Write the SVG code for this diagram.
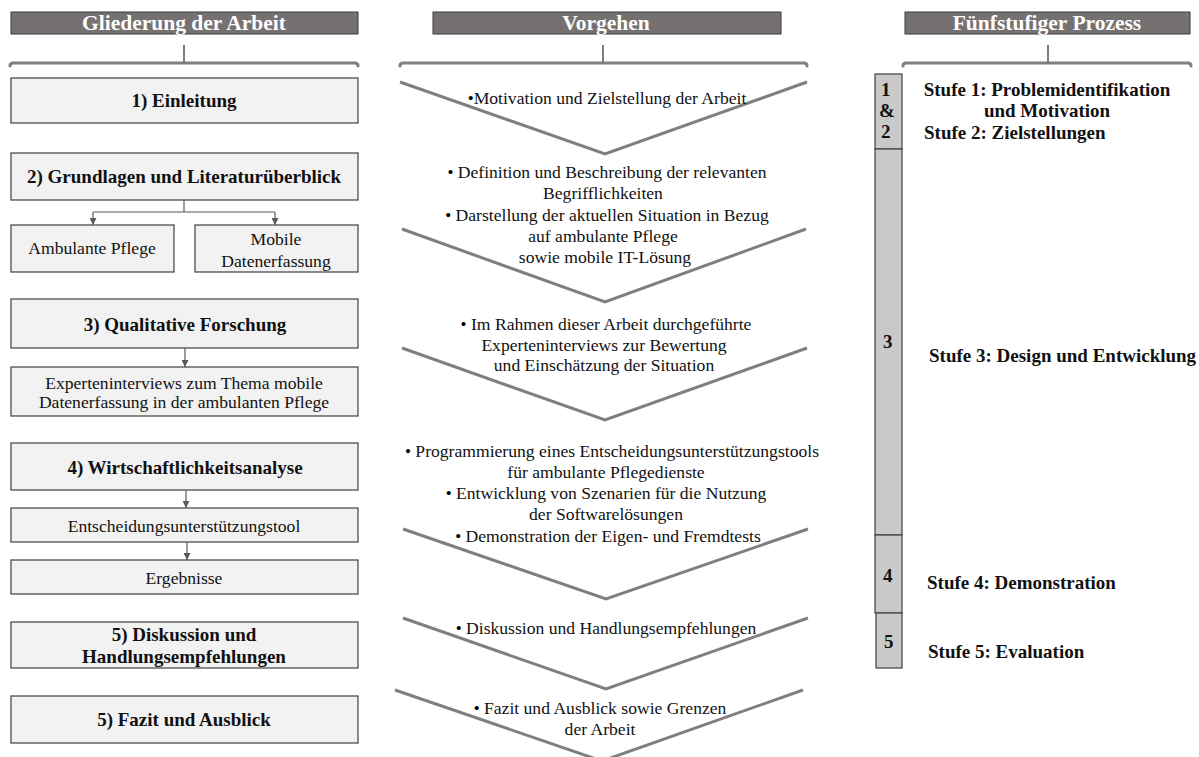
<svg xmlns="http://www.w3.org/2000/svg" width="1199" height="757" viewBox="0 0 1199 757">
<defs>
<style>
.hdr{fill:#767171;stroke:#3a3a3a;stroke-width:1}
.hdrt{font-family:"Liberation Serif",serif;font-weight:bold;font-size:21.5px;fill:#ffffff;text-anchor:middle}
.box{fill:#f2f2f2;stroke:#404040;stroke-width:1.2}
.bt{font-family:"Liberation Serif",serif;font-weight:bold;font-size:19px;fill:#111;text-anchor:middle}
.rt{font-family:"Liberation Serif",serif;font-size:17.6px;fill:#111;text-anchor:middle}
.brk{fill:none;stroke:#7f7f7f;stroke-width:3;stroke-linecap:round;stroke-linejoin:round}
.stem{fill:none;stroke:#7f7f7f;stroke-width:2}
.chev{fill:none;stroke:#7f7f7f;stroke-width:3}
.conn{fill:none;stroke:#595959;stroke-width:1.2}
.seg{fill:#c9c9c9;stroke:#404040;stroke-width:1.2}
.st{font-family:"Liberation Serif",serif;font-weight:bold;font-size:19px;fill:#111}
.dot{font-size:17px;fill:#000}
</style>
<marker id="ah" viewBox="0 0 10 10" refX="10" refY="5" markerWidth="7" markerHeight="7" orient="auto" markerUnits="userSpaceOnUse">
<path d="M0,0 L10,5 L0,10 Z" fill="#595959"/>
</marker>
</defs>

<!-- Headers -->
<g id="hdr-gliederung">
<rect class="hdr" x="11" y="12" width="347" height="22"/>
<text class="hdrt" x="184" y="30">Gliederung der Arbeit</text>
<line class="stem" x1="184" y1="45" x2="184" y2="62"/>
<path class="brk" d="M10,66 Q10,63 13,63 L355,63 Q358,63 358,66"/>
</g>
<g id="hdr-vorgehen">
<rect class="hdr" x="433" y="12" width="348" height="22"/>
<text class="hdrt" x="606" y="30">Vorgehen</text>
<line class="stem" x1="603" y1="45" x2="603" y2="62"/>
<path class="brk" d="M400,66 Q400,63 403,63 L804,63 Q807,63 807,66"/>
</g>
<g id="hdr-prozess">
<rect class="hdr" x="905" y="12" width="285" height="22"/>
<text class="hdrt" x="1047" y="30">Fünfstufiger Prozess</text>
<line class="stem" x1="1048" y1="45" x2="1048" y2="62"/>
<path class="brk" d="M903,66 Q903,63 906,63 L1188,63 Q1191,63 1191,66"/>
</g>

<!-- Left column -->
<g id="n-einleitung"><rect class="box" x="11" y="78" width="347" height="45"/><text class="bt" x="184" y="107">1) Einleitung</text></g>
<g id="n-grundlagen"><rect class="box" x="11" y="153" width="347" height="47"/><text class="bt" x="184" y="183">2) Grundlagen und Literaturüberblick</text></g>
<g id="n-ambulant"><rect class="box" x="11" y="225" width="163" height="47"/><text class="rt" x="92" y="254">Ambulante  Pflege</text></g>
<g id="n-mobile"><rect class="box" x="195" y="225" width="163" height="47"/><text class="rt" x="276" y="245">Mobile</text><text class="rt" x="276" y="267">Datenerfassung</text></g>
<g id="n-qualitativ"><rect class="box" x="11" y="299" width="347" height="49"/><text class="bt" x="185" y="331">3) Qualitative Forschung</text></g>
<g id="n-experten"><rect class="box" x="11" y="367" width="347" height="49"/><text class="rt" x="184" y="389">Experteninterviews  zum  Thema  mobile</text><text class="rt" x="184" y="408">Datenerfassung  in der ambulanten  Pflege</text></g>
<g id="n-wirtschaft"><rect class="box" x="11" y="443" width="347" height="47"/><text class="bt" x="185" y="474">4) Wirtschaftlichkeitsanalyse</text></g>
<g id="n-tool"><rect class="box" x="11" y="508" width="347" height="34"/><text class="rt" x="184" y="532">Entscheidungsunterstützungstool</text></g>
<g id="n-ergebnisse"><rect class="box" x="11" y="560" width="347" height="34"/><text class="rt" x="184" y="584">Ergebnisse</text></g>
<g id="n-diskussion"><rect class="box" x="11" y="622" width="347" height="46"/><text class="bt" x="184" y="641">5) Diskussion und</text><text class="bt" x="184" y="663">Handlungsempfehlungen</text></g>
<g id="n-fazit"><rect class="box" x="11" y="696" width="347" height="47"/><text class="bt" x="184" y="726">5) Fazit und Ausblick</text></g>

<!-- Connectors -->
<g id="connectors">
<path class="conn" d="M184,200 L184,212"/>
<path class="conn" d="M93,212 L275,212"/>
<path class="conn" d="M93,212 L93,225" marker-end="url(#ah)"/>
<path class="conn" d="M275,212 L275,225" marker-end="url(#ah)"/>
<path class="conn" d="M185,348 L185,367" marker-end="url(#ah)"/>
<path class="conn" d="M186,490 L186,508" marker-end="url(#ah)"/>
<path class="conn" d="M187,542 L187,560" marker-end="url(#ah)"/>
</g>

<!-- Middle column chevrons -->
<g id="v1">
<polyline class="chev" points="400,82 605,154 807,82"/>
<text class="rt" x="607" y="104"><tspan class="dot">•</tspan>Motivation und Zielstellung der Arbeit</text>
</g>
<g id="v2">
<polyline class="chev" points="402,229 605,302 806,229"/>
<text class="rt" x="607" y="178"><tspan class="dot">•</tspan> Definition und Beschreibung der relevanten</text>
<text class="rt" x="603" y="199">Begrifflichkeiten</text>
<text class="rt" x="607" y="221"><tspan class="dot">•</tspan> Darstellung der aktuellen Situation in Bezug</text>
<text class="rt" x="603" y="242">auf ambulante  Pflege</text>
<text class="rt" x="605" y="263">sowie mobile IT-Lösung</text>
</g>
<g id="v3">
<polyline class="chev" points="402,348 605,420 807,348"/>
<text class="rt" x="606" y="330"><tspan class="dot">•</tspan> Im Rahmen dieser Arbeit durchgeführte</text>
<text class="rt" x="604" y="351">Experteninterviews  zur Bewertung</text>
<text class="rt" x="604" y="371">und Einschätzung  der Situation</text>
</g>
<g id="v4">
<polyline class="chev" points="403,529 606,599 808,529"/>
<text class="rt" x="612" y="457"><tspan class="dot">•</tspan> Programmierung eines Entscheidungsunterstützungstools</text>
<text class="rt" x="606" y="478">für ambulante  Pflegedienste</text>
<text class="rt" x="606" y="499"><tspan class="dot">•</tspan> Entwicklung  von Szenarien für die Nutzung</text>
<text class="rt" x="606" y="520">der Softwarelösungen</text>
<text class="rt" x="608" y="542"><tspan class="dot">•</tspan> Demonstration der Eigen-  und Fremdtests</text>
</g>
<g id="v5">
<polyline class="chev" points="403,618 606,689 808,618"/>
<text class="rt" x="606" y="634"><tspan class="dot">•</tspan> Diskussion und Handlungsempfehlungen</text>
</g>
<g id="v6">
<polyline class="chev" points="395,690 602,761 803,690"/>
<text class="rt" x="600" y="714"><tspan class="dot">•</tspan> Fazit und Ausblick sowie Grenzen</text>
<text class="rt" x="600" y="735">der Arbeit</text>
</g>

<!-- Right column -->
<g id="p12">
<rect class="seg" x="875" y="74" width="27" height="75"/>
<text class="st" x="881" y="96">1</text><text class="st" x="879" y="117">&amp;</text><text class="st" x="881" y="138">2</text>
<text class="st" x="1047" y="96" text-anchor="middle">Stufe 1: Problemidentifikation</text>
<text class="st" x="1047" y="117" text-anchor="middle">und Motivation</text>
<text class="st" x="924" y="139">Stufe 2: Zielstellungen</text>
</g>
<g id="p3">
<rect class="seg" x="875" y="149" width="27" height="386"/>
<text class="st" x="883" y="348">3</text>
<text class="st" x="929" y="362">Stufe 3: Design und Entwicklung</text>
</g>
<g id="p4">
<rect class="seg" x="875" y="535" width="27" height="78"/>
<text class="st" x="883" y="582">4</text>
<text class="st" x="927" y="589">Stufe 4: Demonstration</text>
</g>
<g id="p5">
<rect class="seg" x="876" y="613" width="26" height="55"/>
<text class="st" x="884" y="648">5</text>
<text class="st" x="928" y="658">Stufe 5: Evaluation</text>
</g>
</svg>
